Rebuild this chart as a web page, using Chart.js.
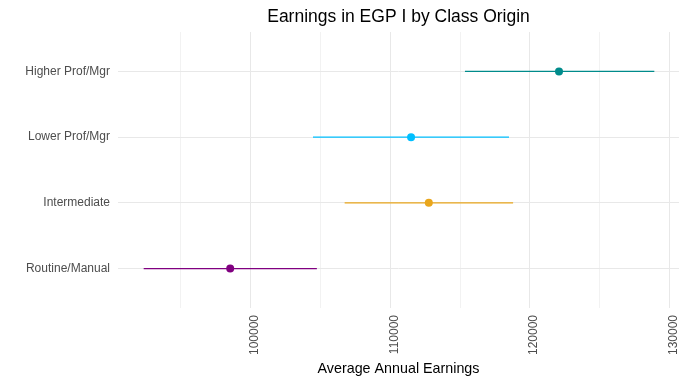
<!DOCTYPE html>
<html>
<head>
<meta charset="utf-8">
<script src="https://cdn.jsdelivr.net/npm/chart.js@4.4.0/dist/chart.umd.min.js"></script>
<style>
  html, body { margin: 0; padding: 0; background: #fff; }
  #wrap { width: 691px; height: 384px; }
</style>
</head>
<body>
<div id="wrap"><canvas id="chart" width="691" height="384"></canvas></div>
<script>
// bottom to top
const categories = ['Routine/Manual', 'Intermediate', 'Lower Prof/Mgr', 'Higher Prof/Mgr'];
const means = [98530, 112760, 111490, 122090];
const lows  = [92330, 106730, 104460, 115350];
const highs = [104740, 118800, 118510, 128920];
const colors = ['#800080', '#E9A61C', '#00BFFF', '#008B8B'];

const xTicks = [95000, 100000, 105000, 110000, 115000, 120000, 125000, 130000];
const yTicks = [1, 2, 3, 4];

const FONT = 'Liberation Sans, Arial, sans-serif';

const datasets = [];

categories.forEach((c, i) => {
    datasets.push({
        type: 'line',
        label: c,
        data: [{ x: lows[i], y: i + 1 }, { x: highs[i], y: i + 1 }],
        borderColor: colors[i],
        borderWidth: 1.3,
        pointRadius: 0,
        showLine: true,
        fill: false,
        order: 1
    });
});

datasets.push({
    type: 'scatter',
    label: 'mean',
    data: means.map((m, i) => ({ x: m, y: i + 1 })),
    pointBackgroundColor: colors,
    pointBorderColor: colors,
    pointRadius: 4,
    pointBorderWidth: 0,
    order: 0
});

const ctx = document.getElementById('chart').getContext('2d');

new Chart(ctx, {
    type: 'scatter',
    data: { datasets: datasets },
    options: {
        responsive: false,
        animation: false,
        layout: { padding: { left: 0, right: 8, top: 0, bottom: 0 } },
        plugins: {
            legend: { display: false },
            tooltip: { enabled: false },
            title: {
                display: true,
                text: 'Earnings in EGP I by Class Origin',
                color: '#000',
                fullSize: false,
                font: { family: FONT, size: 17.5, weight: 'normal', lineHeight: 1.2 },
                padding: { top: 7, bottom: 4 }
            }
        },
        scales: {
            x: {
                type: 'linear',
                min: 90490,
                max: 130690,
                border: { display: false },
                grid: {
                    drawTicks: false,
                    color: c => (c.tick && c.tick.value % 10000 === 0) ? '#e8e8e8' : '#f2f2f2',
                    lineWidth: 1
                },
                afterBuildTicks: axis => { axis.ticks = xTicks.map(v => ({ value: v })); },
                afterFit: axis => { axis.height = 76; },
                ticks: {
                    autoSkip: false,
                    minRotation: 90,
                    maxRotation: 90,
                    padding: 7,
                    labelOffset: 4,
                    color: '#4d4d4d',
                    font: { family: FONT, size: 12 },
                    callback: v => (v % 10000 === 0) ? String(v) : ''
                },
                title: {
                    display: true,
                    text: 'Average Annual Earnings',
                    color: '#000',
                    font: { family: FONT, size: 14.3, lineHeight: 1.2 },
                    padding: { top: 4, bottom: 6 }
                }
            },
            y: {
                type: 'linear',
                min: 0.4,
                max: 4.6,
                border: { display: false },
                grid: { drawTicks: false, color: '#e8e8e8', lineWidth: 1 },
                afterBuildTicks: axis => { axis.ticks = yTicks.map(v => ({ value: v })); },
                afterFit: axis => { axis.width = 118; },
                ticks: {
                    padding: 8,
                    color: '#4d4d4d',
                    font: { family: FONT, size: 12 },
                    callback: v => categories[v - 1]
                }
            }
        }
    }
});
</script>
</body>
</html>
